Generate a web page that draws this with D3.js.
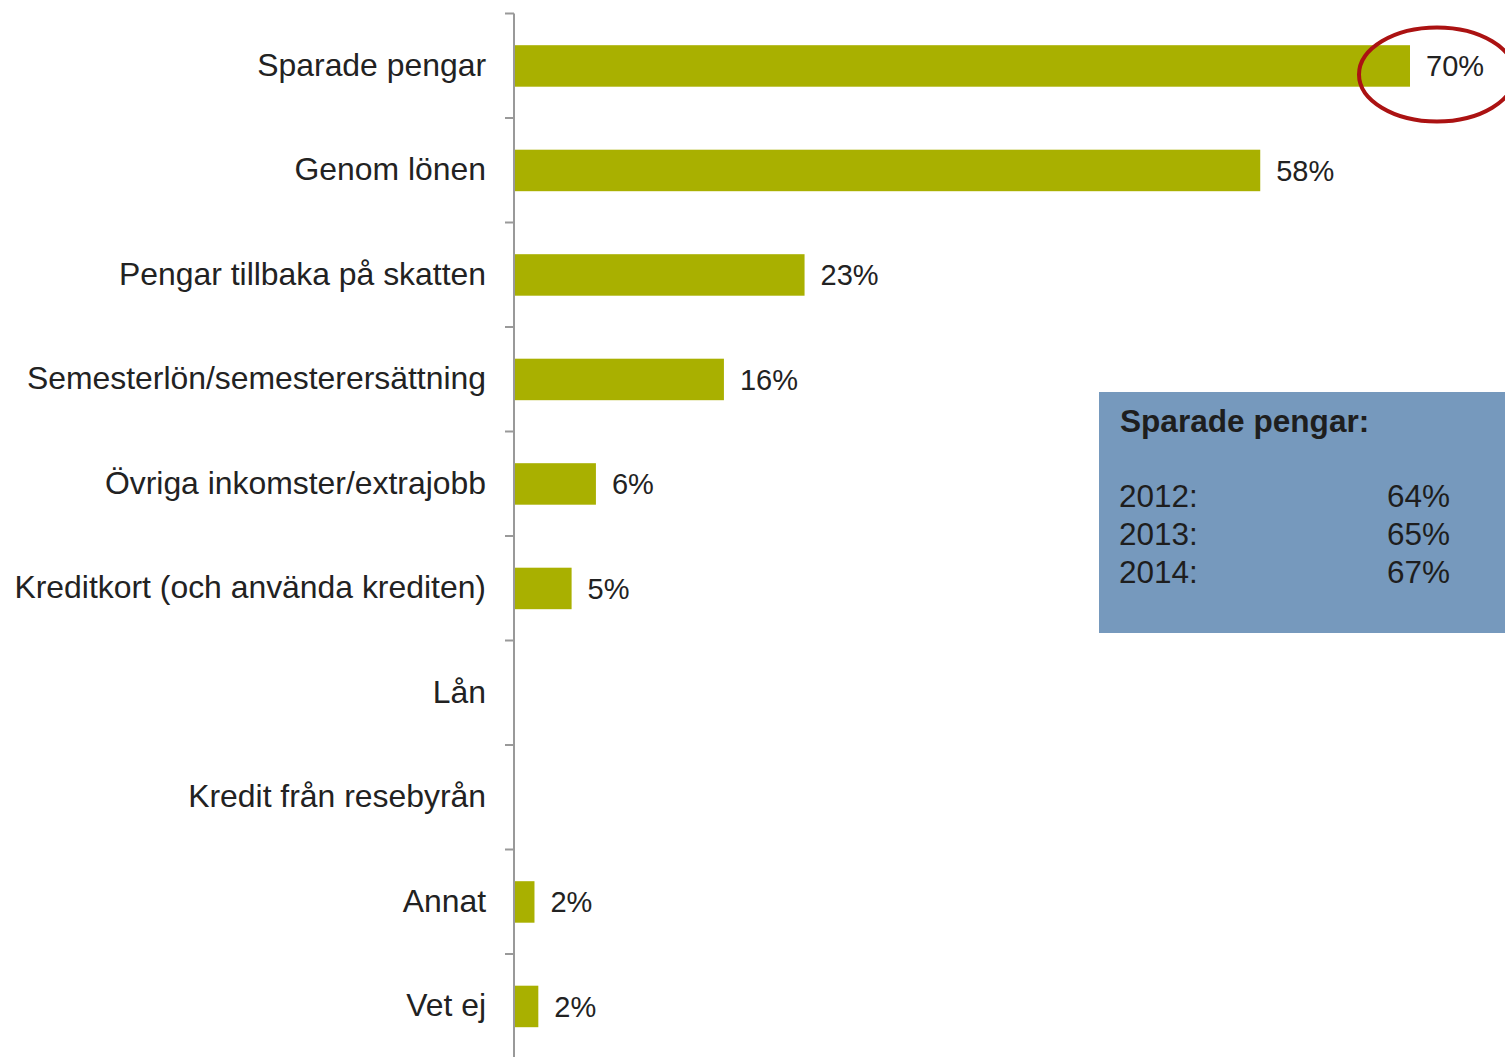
<!DOCTYPE html>
<html><head><meta charset="utf-8">
<script src="https://cdn.jsdelivr.net/npm/d3@7"></script>
<style>html,body{margin:0;padding:0;background:#fff;overflow:hidden}</style>
</head><body>
<svg id="chart" width="1505" height="1057"></svg>
<script>
const categories = ["Sparade pengar","Genom lönen","Pengar tillbaka på skatten","Semesterlön/semesterersättning","Övriga inkomster/extrajobb","Kreditkort (och använda krediten)","Lån","Kredit från resebyrån","Annat","Vet ej"];
const values = [70, 58.3, 22.7, 16.4, 6.4, 4.5, null, null, 1.6, 1.9];
const boxTitle = "Sparade pengar:";
const boxYears = ["2012:","2013:","2014:"];
const boxValues = ["64%","65%","67%"];

const svg = d3.select("#chart");
const font = "'Liberation Sans', Arial, sans-serif";
const x = d3.scaleLinear().domain([0, 70]).range([514, 1410]);
const y = d3.scaleBand().domain(categories).range([13.5, 13.5 + 104.5*categories.length]).padding(0);
const barH = 41.5;
const rows = categories.map((c,i)=>({c,v:values[i]})).filter(d=>d.v!=null);

// bars
svg.selectAll("rect.bar").data(rows)
  .join("rect").attr("class","bar")
  .attr("x", x(0)).attr("y", d=>y(d.c)+y.bandwidth()/2-barH/2+0.2)
  .attr("width", d=>x(d.v)-x(0)).attr("height", barH)
  .attr("fill","#a9b000");

// value labels
svg.selectAll("text.val").data(rows)
  .join("text").attr("class","val")
  .attr("x", d=>x(d.v)+16).attr("y", d=>y(d.c)+y.bandwidth()/2+0.5)
  .attr("dominant-baseline","central")
  .attr("font-family",font).attr("font-size",29).attr("fill","#222")
  .text(d=>Math.round(d.v)+"%");

// axis line and ticks
const ag = svg.append("g");
ag.append("line").attr("x1",514).attr("x2",514).attr("y1",13.5).attr("y2",1057).attr("stroke","#999").attr("stroke-width",2);
const bounds = categories.map(c=>y(c)).concat([y.range()[1]]);
ag.selectAll("line.tk").data(bounds).join("line").attr("class","tk")
  .attr("x1",505).attr("x2",514).attr("y1",d=>d).attr("y2",d=>d)
  .attr("stroke","#999").attr("stroke-width",2);

// category labels
svg.selectAll("text.cat").data(categories).join("text").attr("class","cat")
  .attr("x",486).attr("y",d=>y(d)+y.bandwidth()/2-1)
  .attr("text-anchor","end").attr("dominant-baseline","central")
  .attr("font-family",font).attr("font-size",31.9).attr("fill","#222")
  .text(d=>d);

// info box
svg.append("rect").attr("x",1099).attr("y",392).attr("width",410).attr("height",241).attr("fill","#7699bd");
svg.append("text").attr("x",1120).attr("y",432).attr("font-family",font).attr("font-weight","bold")
  .attr("font-size",31.6).attr("fill","#1e1e1e").text(boxTitle);
boxYears.forEach((yr,i)=>{
  svg.append("text").attr("x",1119).attr("y",507+i*38).attr("font-family",font).attr("font-size",31.5).attr("fill","#1e1e1e").text(yr);
  svg.append("text").attr("x",1387).attr("y",507+i*38).attr("font-family",font).attr("font-size",31.5).attr("fill","#1e1e1e").text(boxValues[i]);
});

// highlight ellipse
svg.append("ellipse").attr("cx",1437).attr("cy",74.5).attr("rx",78).attr("ry",47)
  .attr("fill","none").attr("stroke","#ab1212").attr("stroke-width",4);
</script>
</body></html>
